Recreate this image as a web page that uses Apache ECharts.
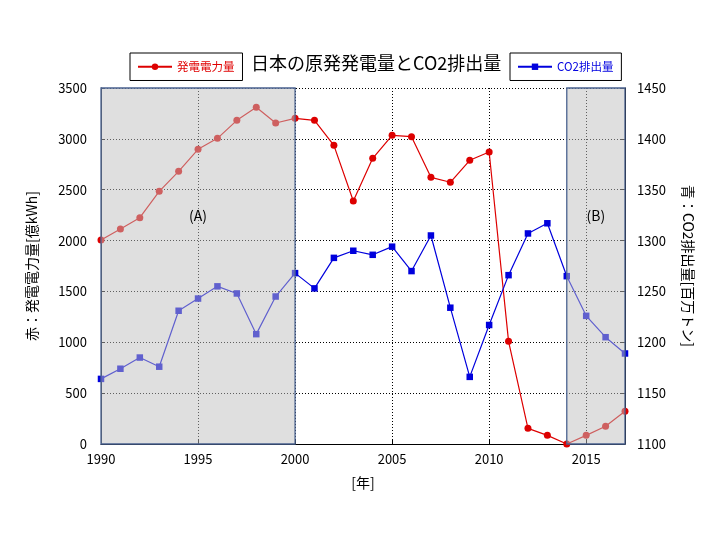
<!DOCTYPE html>
<html>
<head>
<meta charset="utf-8">
<script src="https://cdn.jsdelivr.net/npm/echarts@6/dist/echarts.min.js"></script>
<style>html,body{margin:0;padding:0;background:#fff;}#c{width:720px;height:540px;}</style>
</head>
<body>
<div id="c"></div>
<script>
// ---- data ----
const years = [1990,1991,1992,1993,1994,1995,1996,1997,1998,1999,2000,2001,2002,2003,2004,2005,2006,2007,2008,2009,2010,2011,2012,2013,2014,2015,2016,2017];
const powerGen = [2005,2114,2225,2484,2681,2897,3005,3182,3310,3156,3202,3182,2936,2389,2809,3035,3021,2622,2573,2789,2871,1009,154,85,0,85,174,321];
const co2 = [1164,1174,1185,1176,1231,1243,1255,1248,1208,1245,1268,1253,1283,1290,1286,1294,1270,1305,1234,1166,1217,1266,1307,1317,1265,1226,1205,1189];
const regionStart = [1990, 2014];
const regionEnd = [2000, 2017];
const regionLabels = ['(A)', '(B)'];
const xTicks = { min: 1990, max: 2017, interval: 5 };
const leftTicks = { min: 0, max: 3500, interval: 500 };
const rightTicks = { min: 1100, max: 1450, interval: 50 };

const FONT = '"Noto Sans CJK JP", "Noto Sans", sans-serif';
const chart = echarts.init(document.getElementById('c'), null, { renderer: 'canvas' });

const dotted = { color: '#000', type: [1, 2], width: 1 };
const plain = v => String(v);

chart.setOption({
  animation: false,
  backgroundColor: '#fff',
  textStyle: { fontFamily: FONT },
  title: {
    text: '日本の原発発電量とCO2排出量',
    left: 251, top: 54, padding: 0,
    textStyle: { fontSize: 18, fontWeight: 'normal', color: '#000', fontFamily: FONT }
  },
  legend: [
    {
      data: ['発電電力量'], left: 130, top: 53,
      borderColor: '#000', borderWidth: 1, padding: [8, 8, 8, 7],
      itemWidth: 34, itemHeight: 8, itemGap: 4,
      textStyle: { color: '#e00000', fontSize: 11.5, fontFamily: FONT }
    },
    {
      data: ['CO2排出量'], left: 510, top: 53,
      borderColor: '#000', borderWidth: 1, padding: [8, 8, 8, 7],
      itemWidth: 34, itemHeight: 8, itemGap: 4,
      textStyle: { color: '#0000e0', fontSize: 11.5, fontFamily: FONT }
    }
  ],
  grid: { left: 101, right: 95, top: 88, bottom: 96, containLabel: false },
  xAxis: {
    type: 'value', min: xTicks.min, max: xTicks.max, interval: xTicks.interval,
    name: '[年]', nameLocation: 'middle', nameGap: 32,
    nameTextStyle: { fontSize: 14, color: '#000', fontFamily: FONT },
    axisLine: { show: true, onZero: false, lineStyle: { color: '#000', width: 1 } },
    axisTick: { show: true, inside: true, length: 4, lineStyle: { color: '#000' } },
    axisLabel: { color: '#000', fontSize: 13, margin: 9, showMaxLabel: false, fontFamily: FONT, formatter: plain },
    splitLine: { show: true, lineStyle: dotted }
  },
  yAxis: [
    {
      type: 'value', position: 'left', min: leftTicks.min, max: leftTicks.max, interval: leftTicks.interval,
      name: '赤：発電電力量[億kWh]', nameLocation: 'middle', nameGap: 62, nameRotate: 90,
      nameTextStyle: { fontSize: 14, color: '#000', fontFamily: FONT },
      axisLine: { show: true, lineStyle: { color: '#000', width: 1 } },
      axisTick: { show: true, inside: true, length: 4, lineStyle: { color: '#000' } },
      axisLabel: { color: '#000', fontSize: 13, margin: 14, fontFamily: FONT, formatter: plain },
      splitLine: { show: true, lineStyle: dotted }
    },
    {
      type: 'value', position: 'right', min: rightTicks.min, max: rightTicks.max, interval: rightTicks.interval,
      name: '青：CO2排出量[百万トン]', nameLocation: 'middle', nameGap: 56, nameRotate: -90,
      nameTextStyle: { fontSize: 14, color: '#000', fontFamily: FONT },
      axisLine: { show: true, lineStyle: { color: '#000', width: 1 } },
      axisTick: { show: true, inside: true, length: 4, lineStyle: { color: '#000' } },
      axisLabel: { color: '#000', fontSize: 13, margin: 12, fontFamily: FONT, formatter: plain },
      splitLine: { show: false }
    }
  ],
  series: [
    {
      name: '発電電力量', type: 'line', yAxisIndex: 0, z: 2,
      data: years.map((y, i) => [y, powerGen[i]]),
      symbol: 'circle', symbolSize: 7, showAllSymbol: true,
      itemStyle: { color: '#dd0000' },
      lineStyle: { color: '#dd0000', width: 1.2 }
    },
    {
      name: 'CO2排出量', type: 'line', yAxisIndex: 1, z: 2,
      data: years.map((y, i) => [y, co2[i]]),
      symbol: 'rect', symbolSize: 6.5, showAllSymbol: true,
      itemStyle: { color: '#0000dd' },
      lineStyle: { color: '#0000dd', width: 1.2 }
    },
    {
      name: 'regions', type: 'custom', yAxisIndex: 0, z: 5, silent: true,
      data: regionStart.map((s, i) => [s, regionEnd[i]]),
      encode: { x: [0, 1] },
      renderItem: function (params, api) {
        const cs = params.coordSys;
        const a = api.coord([api.value(0), leftTicks.min]);
        const b = api.coord([api.value(1), leftTicks.min]);
        return {
          type: 'group',
          children: [
            {
              type: 'rect',
              shape: { x: a[0], y: cs.y, width: b[0] - a[0], height: cs.height },
              style: { fill: 'rgba(192,192,192,0.5)', stroke: '#4a6290', lineWidth: 1.3 }
            },
            {
              type: 'text',
              style: {
                text: regionLabels[params.dataIndex],
                x: (a[0] + b[0]) / 2, y: cs.y + cs.height * 0.36,
                fill: '#000', fontSize: 14, fontFamily: FONT,
                align: 'center', verticalAlign: 'middle'
              }
            }
          ]
        };
      }
    }
  ]
});
</script>
</body>
</html>
